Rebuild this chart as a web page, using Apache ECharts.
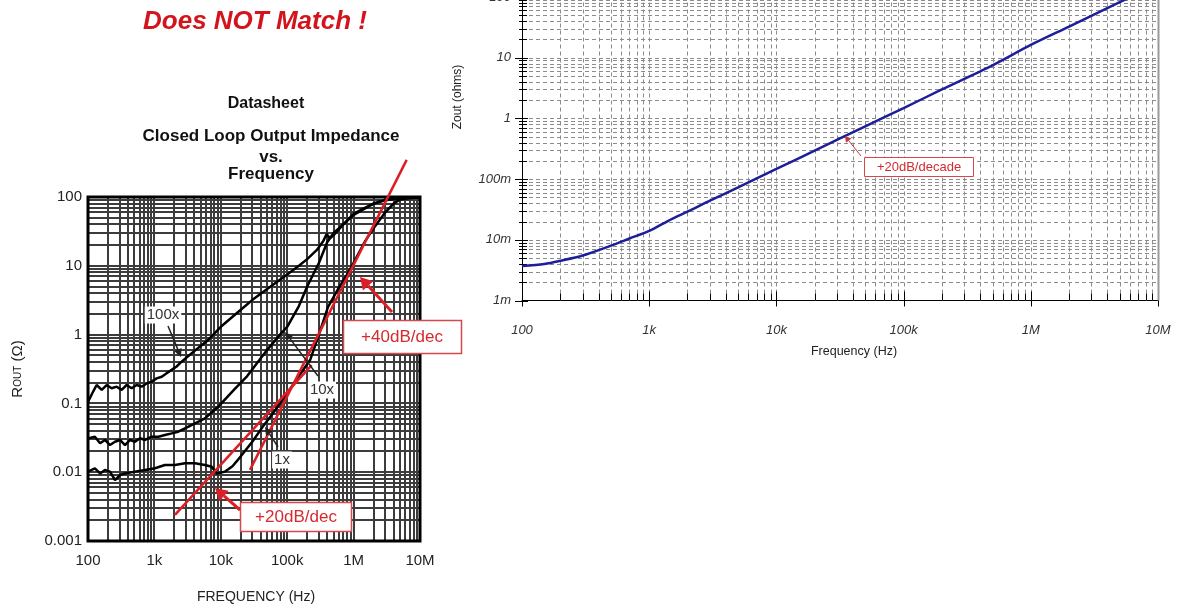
<!DOCTYPE html>
<html><head><meta charset="utf-8">
<script src="https://cdn.jsdelivr.net/npm/echarts@6/dist/echarts.min.js"></script>
<style>html,body{margin:0;padding:0;background:#fff}#c{width:1183px;height:613px}</style>
</head><body><div id="c"></div>
<script>
// ---------- DATA ----------
// Datasheet: Closed loop output impedance (ROUT, ohms) vs frequency (Hz)
const ds100x = [[100,0.105],[107,0.112],[120,0.15],[135,0.185],[161,0.157],[191,0.185],[227,0.166],[270,0.175],[321,0.157],[382,0.185],[454,0.166],[540,0.185],[643,0.175],[764,0.195],[908,0.207],[1080,0.231],[1290,0.244],[1530,0.274],[1820,0.307],[2160,0.344],[2570,0.404],[3500,0.52],[4860,0.67],[6400,0.83],[10000,1.3],[20000,2.3],[30000,3.2],[50000,4.6],[100000,7.5],[150000,10],[200000,12.5],[280000,17],[350000,23],[393000,29],[440000,25],[500000,28],[700000,40],[1000000,57],[1400000,68],[2000000,80],[2500000,86],[3500000,93],[4500000,96],[7000000,98],[10000000,98]];
const ds10x = [[100,0.031],[107,0.033],[127,0.0328],[152,0.0263],[180,0.0294],[214,0.0248],[255,0.0277],[303,0.0294],[361,0.0248],[429,0.0294],[510,0.0277],[607,0.0311],[722,0.0294],[909,0.0328],[1150,0.0328],[1440,0.0347],[1820,0.0367],[2290,0.0388],[2890,0.0435],[4090,0.0514],[5780,0.0607],[9180,0.09],[16000,0.16],[25000,0.25],[50000,0.6],[78000,1.0],[100000,1.3],[150000,2.6],[200000,5],[300000,11],[400000,22],[500000,30],[700000,40],[1000000,55],[2000000,80],[3000000,90],[5000000,96],[10000000,98]];
const ds1x = [[100,0.0102],[107,0.0102],[127,0.0114],[152,0.0096],[180,0.0108],[214,0.0102],[255,0.0077],[303,0.0091],[361,0.0096],[510,0.0102],[722,0.0108],[1020,0.0114],[1440,0.0127],[2040,0.0127],[2890,0.0135],[4090,0.0135],[5780,0.0127],[7300,0.0120],[8670,0.0096],[11600,0.0102],[15000,0.0122],[20000,0.017],[30000,0.028],[43000,0.046],[60000,0.07],[100000,0.14],[150000,0.25],[222000,0.43],[300000,1.0],[411000,2.5],[440000,2.6],[600000,4.8],[800000,7.5],[1000000,11],[1500000,23],[2000000,35],[3000000,60],[4000000,80],[5000000,92],[7000000,97],[10000000,98]];
// hand-drawn asymptotes
const asym20 = [[2040,0.0024],[234000,0.36]];
const asym40 = [[27500,0.0108],[6300000,347]];
// Simulation: Zout (ohms) vs Frequency (Hz)
const simFreq = [100,150,200,300,500,700,1000,1500,2000,3000,5000,7000,10000,20000,50000,100000,200000,500000,1000000,2000000,5000000,10000000];
const simZout = [0.0037,0.0040,0.0045,0.0055,0.0080,0.0105,0.0140,0.022,0.029,0.044,0.073,0.103,0.147,0.295,0.74,1.48,3.0,7.5,16.2,32.5,82,165];
// tick labels
const freqTickLabels = ['100','1k','10k','100k','1M','10M'];
const dsRoutTickLabels = ['0.001','0.01','0.1','1','10','100'];
const simZTickLabels = ['1m','10m','100m','1','10','100'];

// ---------- HELPERS ----------
const FR = [100, 1e7], RR = [0.001, 100];
function decadeLabel(list, minExp){ return v => { const i = Math.round(Math.log10(v)) - minExp; return list[i] !== undefined ? list[i] : ''; }; }
function decadeValues(lo, hi){
  const out=[];
  for(let k=Math.floor(Math.log10(lo)); k<=Math.ceil(Math.log10(hi)); k++){
    for(let m=1;m<=9;m++){ const v=+(m*Math.pow(10,k)).toPrecision(6); if(v>=lo*0.999 && v<=hi*1.001) out.push([v, m===1]); }
  }
  return out;
}
function gridSeries(xi, yi, opt){
  const xr=FR, yr=RR, items=[];
  decadeValues(xr[0],xr[1]).forEach(([v,maj])=>{ if(v>xr[0]*1.001 && v<xr[1]*0.999) items.push([v,yr[0],0]); if(opt.ticks) items.push([v,yr[0],maj?3:2]); });
  decadeValues(yr[0],yr[1]).forEach(([v,maj])=>{ if(v>yr[0]*1.001 && v<yr[1]*0.999) items.push([xr[0],v,1]); if(opt.ticks) items.push([xr[0],v,maj?5:4]); });
  if(opt.rightBorder) items.push([xr[1],yr[0],6]);
  if(opt.frame) items.push([xr[0],yr[0],7]);
  const off = opt.offset === undefined ? 0.5 : opt.offset;
  const r = x=>Math.round(x)+off;
  const r1 = x=>Math.round(x)+0.5;
  return {type:'custom', xAxisIndex:xi, yAxisIndex:yi, silent:true, z:opt.z||2, clip:false, animation:false, data:items,
    renderItem:(params, api)=>{
      const t=api.value(2), v0=api.value(0), v1=api.value(1);
      if(t===7){
        const p=api.coord([xr[0],yr[0]]), q=api.coord([xr[1],yr[1]]);
        return {type:'rect', shape:{x:Math.round(p[0]),y:Math.round(q[1]),width:Math.round(q[0]-p[0]),height:Math.round(p[1]-q[1])}, style:Object.assign({fill:null},opt.frame)};
      }
      let a,b,style=opt.gridStyle;
      if(t===0||t===6){ const p=api.coord([v0,yr[0]]), q=api.coord([v0,yr[1]]); a=[r(p[0]),p[1]]; b=[r(q[0]),q[1]]; if(t===6) style=opt.borderStyle; }
      else if(t===1){ const p=api.coord([xr[0],v1]), q=api.coord([xr[1],v1]); a=[p[0],r(p[1])]; b=[q[0],r(q[1])]; }
      else { const p=api.coord([v0,v1]); style=opt.tickStyle;
        if(t===2){ a=[r1(p[0]),p[1]]; b=[r1(p[0]),p[1]-7]; }
        else if(t===3){ a=[r1(p[0]),p[1]+6]; b=[r1(p[0]),p[1]-9]; }
        else if(t===4){ a=[p[0]-3,r1(p[1])]; b=[p[0]+5,r1(p[1])]; }
        else { a=[p[0]-7,r1(p[1])]; b=[p[0]+6,r1(p[1])]; }
      }
      return {type:'line', shape:{x1:a[0],y1:a[1],x2:b[0],y2:b[1]}, style:Object.assign({},style)};
    }};
}
function arrow(x1,y1,x2,y2,color,lw,hl,hw){
  const a=Math.atan2(y2-y1,x2-x1);
  const bx=x2-hl*Math.cos(a), by=y2-hl*Math.sin(a);
  const px=-Math.sin(a)*hw, py=Math.cos(a)*hw;
  return [
    {type:'line', z:60, shape:{x1,y1,x2:bx,y2:by}, style:{stroke:color,lineWidth:lw}},
    {type:'polygon', z:60, shape:{points:[[x2,y2],[bx+px,by+py],[bx-px,by-py]]}, style:{fill:color}}
  ];
}
function txt(text,x,y,font,fill,extra){ return Object.assign({type:'text', z:60, x, y, style:Object.assign({text, font, fill, align:'center', verticalAlign:'middle'}, extra||{})}); }

// ---------- CHART ----------
const chart = echarts.init(document.getElementById('c'), null, {width:1183, height:613});
const RED = '#dc1f26';
const graphic = [].concat(
  [txt('Does NOT Match !',255,22,'italic bold 26px Arial','#d3141c'),
   txt('Datasheet',266,104,'bold 16px Arial','#111'),
   txt('Closed Loop Output Impedance',271,136,'bold 17px Arial','#111'),
   txt('vs.',271,157,'bold 17px Arial','#111'),
   txt('Frequency',271,174,'bold 17px Arial','#111'),
   txt('FREQUENCY (Hz)',256,597,'14px Arial','#222'),
   {type:'text', z:60, x:18, y:369, rotation:Math.PI/2, style:{text:'{a|R}{b|OUT}{a| (Ω)}', align:'center', verticalAlign:'middle', fill:'#222', rich:{a:{font:'15px Arial',fill:'#222'}, b:{font:'10px Arial',fill:'#222'}}}},
   {type:'text', z:60, x:458, y:97, rotation:Math.PI/2, style:{text:'Zout (ohms)', font:'12px Arial', fill:'#222', align:'center', verticalAlign:'middle'}},
   txt('Frequency (Hz)',854,352,'12.5px Arial','#222'),
   // curve labels
   txt('100x',163,315,'15px Arial','#333',{backgroundColor:'#fff',padding:[1,2]}),
   txt('10x',322,390,'15px Arial','#333',{backgroundColor:'#fff',padding:[1,2]}),
   txt('1x',282,460,'15px Arial','#333',{backgroundColor:'#fff',padding:[1,2]}),
   // red boxes
   {type:'rect', z:60, shape:{x:343.5,y:320.5,width:118,height:33}, style:{fill:'#fff',stroke:'#d8474e',lineWidth:1.5}},
   txt('+40dB/dec',402,337,'17px Arial','#d52a30'),
   {type:'rect', z:60, shape:{x:240.5,y:502.5,width:111,height:29}, style:{fill:'#fff',stroke:'#d8474e',lineWidth:1.5}},
   txt('+20dB/dec',296,517,'17px Arial','#d52a30'),
   {type:'rect', z:60, shape:{x:864.5,y:157.5,width:109,height:19}, style:{fill:'#fff',stroke:'#d8474e',lineWidth:1}},
   txt('+20dB/decade',919,167,'13px Arial','#d52a30')
  ],
  arrow(168,326,181,357,'#222',1.5,8,4),
  arrow(318,376,285,332,'#222',1.5,8,4),
  arrow(278,447,265,427,'#222',1.5,8,4),
  arrow(392,312,360,277,RED,3,12,7),
  arrow(240,510,215,488,RED,3,12,7),
  arrow(861,156,845,136,'#c8373c',1,6,3.5)
);

const option = {
  animation:false,
  backgroundColor:'#fff',
  grid:[
    {left:88, top:197, width:332, height:344, show:false, outerBoundsMode:'none', containLabel:false},
    {left:522, top:-3, width:636, height:303.5, show:false, outerBoundsMode:'none', containLabel:false}
  ],
  xAxis:[
    {type:'log', logBase:10, gridIndex:0, min:FR[0], max:FR[1], splitNumber:5,
     axisLine:{show:false}, axisTick:{show:false}, splitLine:{show:false},
     axisLabel:{formatter:decadeLabel(freqTickLabels,2), fontFamily:'Arial', fontSize:15, color:'#222', margin:12, showMinLabel:true, showMaxLabel:true}},
    {type:'log', logBase:10, gridIndex:1, min:FR[0], max:FR[1], splitNumber:5,
     axisLine:{show:true, onZero:false, lineStyle:{color:'#000', width:1}}, axisTick:{show:false}, splitLine:{show:false},
     axisLabel:{formatter:decadeLabel(freqTickLabels,2), fontFamily:'Arial', fontStyle:'italic', fontSize:13, color:'#333', margin:23, showMinLabel:true, showMaxLabel:true}}
  ],
  yAxis:[
    {type:'log', logBase:10, gridIndex:0, min:RR[0], max:RR[1], splitNumber:5,
     axisLine:{show:false}, axisTick:{show:false}, splitLine:{show:false},
     axisLabel:{formatter:decadeLabel(dsRoutTickLabels,-3), fontFamily:'Arial', fontSize:15, color:'#222', margin:6, showMinLabel:true, showMaxLabel:true}},
    {type:'log', logBase:10, gridIndex:1, min:RR[0], max:RR[1], splitNumber:5,
     axisLine:{show:true, onZero:false, lineStyle:{color:'#000', width:1}}, axisTick:{show:false}, splitLine:{show:false},
     axisLabel:{formatter:decadeLabel(simZTickLabels,-3), fontFamily:'Arial', fontStyle:'italic', fontSize:13, color:'#333', margin:11, showMinLabel:true, showMaxLabel:true}}
  ],
  graphic: graphic,
  series:[
    gridSeries(0,0,{z:2, offset:0, gridStyle:{stroke:'#3c3c3c',lineWidth:2}, frame:{stroke:'#000',lineWidth:3}}),
    gridSeries(1,1,{ticks:true, rightBorder:true,
      gridStyle:{stroke:'#8c8c8c',lineWidth:1,lineDash:[4,3]},
      tickStyle:{stroke:'#000',lineWidth:1},
      borderStyle:{stroke:'#9a9a9a',lineWidth:2}}),
    {name:'100x', type:'line', xAxisIndex:0, yAxisIndex:0, data:ds100x, showSymbol:false, z:5, lineStyle:{color:'#000',width:2.5}},
    {name:'10x', type:'line', xAxisIndex:0, yAxisIndex:0, data:ds10x, showSymbol:false, z:5, lineStyle:{color:'#000',width:2.5}},
    {name:'1x', type:'line', xAxisIndex:0, yAxisIndex:0, data:ds1x, showSymbol:false, z:5, lineStyle:{color:'#000',width:2.5}},
    {name:'+20dB/dec', type:'line', xAxisIndex:0, yAxisIndex:0, data:asym20, showSymbol:false, z:6, clip:false, lineStyle:{color:RED,width:2.5}},
    {name:'+40dB/dec', type:'line', xAxisIndex:0, yAxisIndex:0, data:asym40, showSymbol:false, z:6, clip:false, lineStyle:{color:RED,width:2.5}},
    {name:'Zout', type:'line', xAxisIndex:1, yAxisIndex:1, data:simFreq.map((f,i)=>[f,simZout[i]]), showSymbol:false, smooth:0.3, z:6, lineStyle:{color:'#1e1e9a',width:2.5}}
  ]
};
chart.setOption(option);
</script></body></html>
